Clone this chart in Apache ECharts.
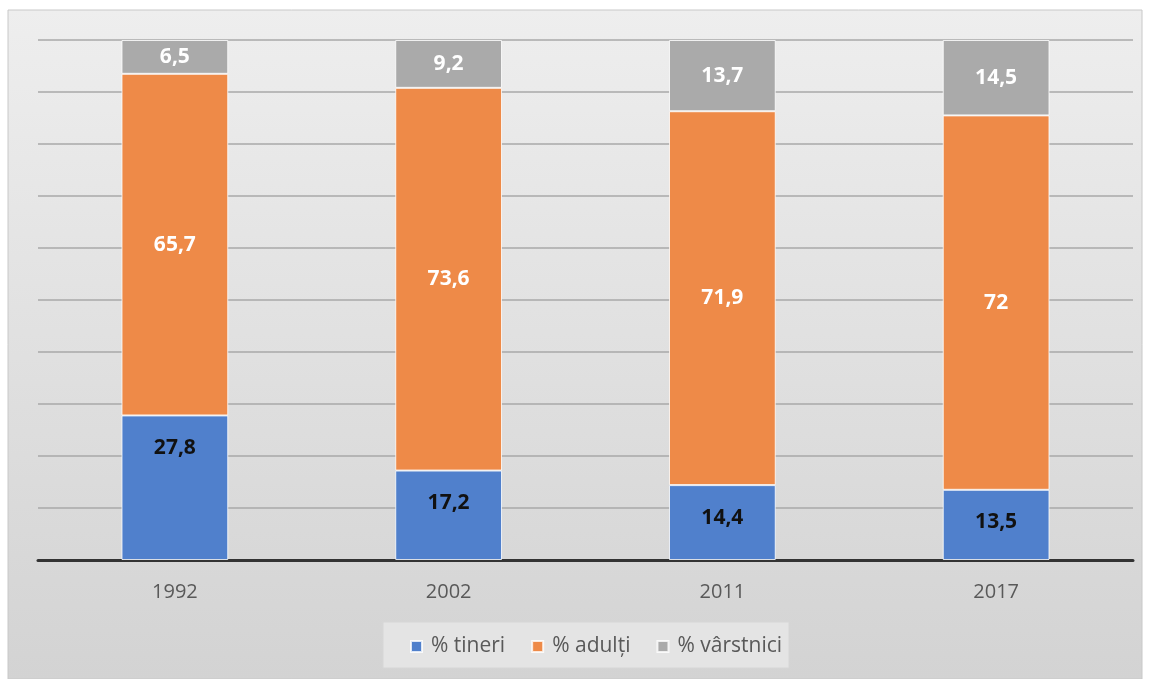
<!DOCTYPE html>
<html><head><meta charset="utf-8">
<script src="https://cdn.jsdelivr.net/npm/echarts@6/dist/echarts.min.js"></script>
<style>html,body{margin:0;padding:0;background:#fff}#c{width:1150px;height:679px}</style>
</head><body><div id="c"></div>
<script>
const categories = ['1992', '2002', '2011', '2017'];
const tineri = [27.8, 17.2, 14.4, 13.5];
const adulti = [65.7, 73.6, 71.9, 72];
const varstnici = [6.5, 9.2, 13.7, 14.5];
const seriesNames = ['% tineri', '% adulți', '% vârstnici'];

const fmt = p => String(p.value).replace('.', ',');
const chart = echarts.init(document.getElementById('c'));
const mk = (name, data, color, labelColor, pos, dist) => ({
  name, type: 'bar', stack: 'total', data, barWidth: '39%',
  itemStyle: { color, borderColor: 'rgba(255,255,255,0.8)', borderWidth: 1 },
  label: { show: true, position: pos, distance: dist, formatter: fmt, color: labelColor,
    fontFamily: 'Open Sans', fontWeight: 'bold', fontSize: 21 }
});
chart.setOption({
  animation: false,
  graphic: [{
    type: 'rect', z: -10, silent: true,
    shape: { x: 8, y: 10, width: 1134, height: 669 },
    style: { fill: new echarts.graphic.LinearGradient(0, 0, 0, 1, [
      { offset: 0, color: '#eeeeee' }, { offset: 1, color: '#d3d3d3' }]),
      stroke: '#c8c8c8', lineWidth: 1 }
  }, {
    type: 'rect', z: -5, silent: true,
    shape: { x: 383, y: 622, width: 406, height: 46 },
    style: { fill: '#e4e4e4', stroke: '#d6d6d6', lineWidth: 1 }
  }],
  grid: { left: 38, right: 17, top: 40, bottom: 119, containLabel: false },
  legend: {
    bottom: 17, left: 405, itemWidth: 11, itemHeight: 11, itemGap: 26,
    icon: 'rect',
    textStyle: { fontFamily: 'Open Sans', fontSize: 21, color: '#595959', padding: [0, 0, 0, 4] },
    data: seriesNames
  },
  xAxis: {
    type: 'category', data: categories,
    axisLine: { lineStyle: { color: '#333333', width: 3 } },
    axisTick: { show: false },
    axisLabel: { fontFamily: 'Open Sans', fontSize: 20, color: '#595959', margin: 22 }
  },
  yAxis: {
    type: 'value', min: 0, max: 100, interval: 10,
    axisLabel: { show: false }, axisLine: { show: false }, axisTick: { show: false },
    splitLine: { lineStyle: { color: '#a8a8a8', width: 1.5 } }
  },
  series: [
    mk(seriesNames[0], tineri, '#5080cc', '#111111', 'insideTop', 22),
    mk(seriesNames[1], adulti, '#ee8a48', '#ffffff', 'inside', 5),
    mk(seriesNames[2], varstnici, '#aaaaaa', '#ffffff', 'inside', 5)
  ]
});
</script></body></html>
